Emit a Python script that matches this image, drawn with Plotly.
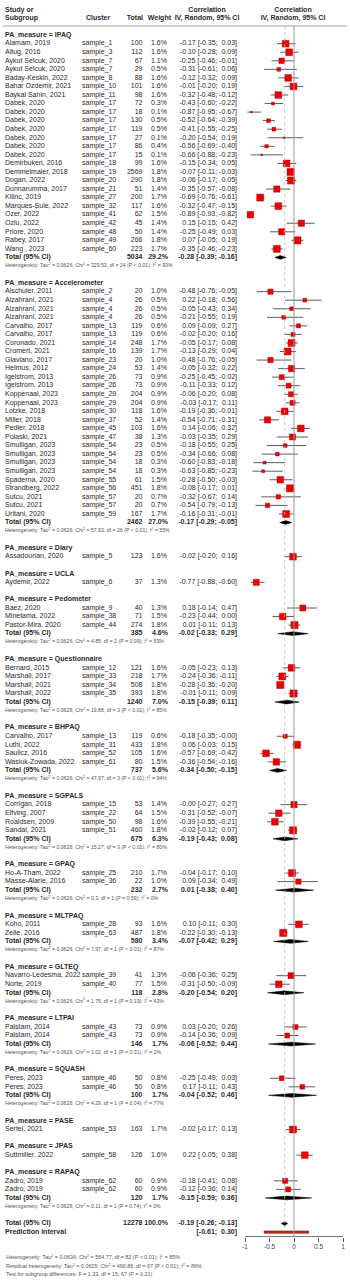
import math
import plotly.graph_objects as go

# ---------------- data ----------------
group_names = ["IPAQ", "Accelerometer", "Diary", "UCLA", "Pedometer", "Questionnaire", "BHPAQ",
               "SGPALS", "GPAQ", "MLTPAQ", "GLTEQ", "LTPAI", "SQUASH", "PASE", "JPAS", "RAPAQ"]
group_sizes = [25, 27, 1, 1, 3, 4, 4, 4, 2, 2, 2, 2, 2, 1, 1, 2]

study = [
    "Alamam, 2019", "Altug, 2016", "Aykut Selcuk, 2020", "Aykut Selcuk, 2020", "Baday-Keskin, 2022",
    "Bahar Ozdemir, 2021", "Baykal Sahin, 2021", "Dabek, 2020", "Dabek, 2020", "Dabek, 2020",
    "Dabek, 2020", "Dabek, 2020", "Dabek, 2020", "Dabek, 2020", "Demirbuken, 2016",
    "Demmelmaier, 2018", "Dogan, 2022", "Donnarumma, 2017", "Kilinc, 2019", "Marques-Sule, 2022",
    "Ozer, 2022", "Ozlu, 2022", "Priore, 2020", "Rabey, 2017", "Wang , 2023",
    "Alschuler, 2011", "Alzahrani, 2021", "Alzahrani, 2021", "Alzahrani, 2021", "Carvalho, 2017",
    "Carvalho, 2017", "Coronado, 2021", "Cromert, 2021", "Glaviano, 2017", "Helmus, 2012",
    "Igelstrom, 2013", "Igelstrom, 2013", "Koppenaal, 2023", "Koppenaal, 2023", "Lotzke, 2018",
    "Miller, 2018", "Pedler, 2018", "Polaski, 2021", "Smulligan, 2023", "Smulligan, 2023",
    "Smulligan, 2023", "Smulligan, 2023", "Spaderna, 2020", "Strandberg, 2022", "Sutcu, 2021",
    "Sutcu, 2021", "Uritani, 2020",
    "Assadourian, 2020",
    "Aydemir, 2022",
    "Baez, 2020", "Minetama, 2022", "Pastor-Mira, 2020",
    "Bernard, 2015", "Marshall, 2017", "Marshall, 2021", "Marshall, 2022",
    "Carvalho, 2017", "Luthi, 2022", "Saulicz, 2016", "Wasiuk-Zowada, 2022",
    "Corrigan, 2018", "Elfving, 2007", "Roaldsen, 2009", "Sandal, 2021",
    "Ho-A-Tham, 2022", "Masse-Alarie, 2016",
    "Koho, 2011", "Zelle, 2016",
    "Navarro-Ledesma, 2022", "Norte, 2019",
    "Palstam, 2014", "Palstam, 2014",
    "Peres, 2023", "Peres, 2023",
    "Sertel, 2021",
    "Suttmiller, 2022",
    "Zadro, 2019", "Zadro, 2019",
]
cluster = [
    "sample_1", "sample_3", "sample_7", "sample_7", "sample_8",
    "sample_10", "sample_11", "sample_17", "sample_17", "sample_17",
    "sample_17", "sample_17", "sample_17", "sample_17", "sample_18",
    "sample_19", "sample_20", "sample_21", "sample_27", "sample_32",
    "sample_41", "sample_42", "sample_48", "sample_49", "sample_60",
    "sample_2", "sample_4", "sample_4", "sample_4", "sample_13",
    "sample_13", "sample_14", "sample_16", "sample_23", "sample_24",
    "sample_26", "sample_26", "sample_29", "sample_29", "sample_30",
    "sample_37", "sample_45", "sample_47", "sample_54", "sample_54",
    "sample_54", "sample_54", "sample_55", "sample_56", "sample_57",
    "sample_57", "sample_59",
    "sample_5",
    "sample_6",
    "sample_9", "sample_38", "sample_44",
    "sample_12", "sample_33", "sample_34", "sample_35",
    "sample_13", "sample_31", "sample_52", "sample_61",
    "sample_15", "sample_22", "sample_50", "sample_51",
    "sample_25", "sample_36",
    "sample_28", "sample_63",
    "sample_39", "sample_40",
    "sample_43", "sample_43",
    "sample_46", "sample_46",
    "sample_53",
    "sample_58",
    "sample_62", "sample_62",
]
total_n = [
    100, 112, 67, 29, 88, 101, 98, 72, 18, 130, 119, 27, 86, 15, 99, 2569, 290, 51, 200, 117,
    62, 45, 50, 266, 223,
    20, 26, 26, 26, 119, 119, 248, 139, 20, 53, 73, 73, 204, 204, 118, 52, 103, 38, 23, 23,
    18, 18, 61, 451, 20, 20, 167,
    123,
    37,
    40, 71, 274,
    121, 218, 508, 393,
    119, 433, 105, 80,
    53, 64, 98, 460,
    210, 22,
    93, 487,
    41, 77,
    73, 73,
    50, 50,
    163,
    126,
    60, 60,
]
weight = [
    1.6, 1.6, 1.1, 0.5, 1.6, 1.6, 1.6, 0.3, 0.1, 0.5, 0.5, 0.1, 0.4, 0.1, 1.6, 1.8, 1.8, 1.4, 1.7, 1.6,
    1.5, 1.4, 1.4, 1.8, 1.7,
    1.0, 0.5, 0.5, 0.5, 0.6, 0.6, 1.7, 1.7, 1.0, 1.4, 0.9, 0.9, 0.9, 0.9, 1.6, 1.4, 1.6, 1.3, 0.5, 0.5,
    0.3, 0.3, 1.5, 1.8, 0.7, 0.7, 1.7,
    1.6,
    1.3,
    1.3, 1.5, 1.8,
    1.6, 1.7, 1.8, 1.8,
    0.6, 1.8, 1.6, 1.5,
    1.4, 1.5, 1.6, 1.8,
    1.7, 1.0,
    1.6, 1.8,
    1.3, 1.5,
    0.9, 0.9,
    0.8, 0.8,
    1.7,
    1.6,
    0.9, 0.9,
]
est = [
    -0.17, -0.10, -0.25, -0.31, -0.12, -0.01, -0.32, -0.43, -0.87, -0.52, -0.41, -0.20, -0.56, -0.66,
    -0.15, -0.07, -0.06, -0.35, -0.69, -0.32, -0.89, 0.15, -0.25, 0.07, -0.35,
    -0.48, 0.22, -0.05, -0.21, 0.09, -0.02, -0.05, -0.13, -0.48, -0.05, -0.25, -0.11, -0.06, -0.03,
    -0.19, -0.54, 0.14, -0.03, -0.18, -0.34, -0.60, -0.63, -0.28, -0.08, -0.32, -0.54, -0.16,
    -0.02,
    -0.77,
    0.18, -0.23, 0.01,
    -0.05, -0.24, -0.28, -0.01,
    -0.18, 0.06, -0.57, -0.36,
    -0.0, -0.31, -0.39, -0.02,
    -0.04, 0.09,
    0.10, -0.22,
    -0.06, -0.31,
    0.03, -0.14,
    -0.25, 0.17,
    -0.02,
    0.22,
    -0.18, -0.12,
]
ci_lo = [
    -0.35, -0.28, -0.46, -0.61, -0.32, -0.20, -0.48, -0.60, -0.95, -0.64, -0.55, -0.54, -0.69, -0.88,
    -0.34, -0.11, -0.17, -0.57, -0.76, -0.47, -0.93, -0.15, -0.49, -0.05, -0.46,
    -0.76, -0.18, -0.43, -0.55, -0.09, -0.20, -0.17, -0.29, -0.76, -0.32, -0.45, -0.33, -0.20, -0.17,
    -0.36, -0.71, -0.06, -0.35, -0.55, -0.66, -0.83, -0.85, -0.50, -0.17, -0.67, -0.79, -0.31,
    -0.20,
    -0.88,
    -0.14, -0.44, -0.11,
    -0.23, -0.36, -0.36, -0.11,
    -0.35, -0.03, -0.69, -0.54,
    -0.27, -0.52, -0.55, -0.12,
    -0.17, -0.34,
    -0.11, -0.30,
    -0.36, -0.50,
    -0.20, -0.36,
    -0.49, -0.11,
    -0.17,
    0.05,
    -0.41, -0.36,
]
ci_hi = [
    0.03, 0.09, -0.01, 0.06, 0.09, 0.19, -0.12, -0.22, -0.67, -0.39, -0.25, 0.19, -0.40, -0.23,
    0.05, -0.03, 0.05, -0.08, -0.61, -0.15, -0.82, 0.42, 0.03, 0.19, -0.23,
    -0.05, 0.56, 0.34, 0.19, 0.27, 0.16, 0.08, 0.04, -0.05, 0.22, -0.02, 0.12, 0.08, 0.11,
    -0.01, -0.31, 0.32, 0.29, 0.25, 0.08, -0.18, -0.23, -0.03, 0.01, 0.14, -0.13, -0.01,
    0.16,
    -0.60,
    0.47, 0.00, 0.13,
    0.13, -0.11, -0.20, 0.09,
    -0.0, 0.15, -0.42, -0.16,
    0.27, -0.07, -0.21, 0.07,
    0.10, 0.49,
    0.30, -0.13,
    0.25, -0.09,
    0.26, 0.09,
    0.03, 0.43,
    0.13,
    0.38,
    0.08, 0.14,
]

# subgroup summaries (None = single-study subgroup)
sub_n = [5034, 2462, None, None, 385, 1240, 737, 675, 232, 580, 118, 146, 100, None, None, 120]
sub_w = [29.2, 27.0, None, None, 4.6, 7.0, 5.6, 6.3, 2.7, 3.4, 2.8, 1.7, 1.7, None, None, 1.7]
sub_est = [-0.28, -0.17, None, None, -0.02, -0.15, -0.34, -0.19, 0.01, -0.07, -0.20, -0.06, -0.04, None, None, -0.15]
sub_lo = [-0.39, -0.29, None, None, -0.33, -0.39, -0.50, -0.43, -0.38, -0.42, -0.54, -0.52, -0.52, None, None, -0.59]
sub_hi = [-0.16, -0.05, None, None, 0.29, 0.11, -0.15, 0.08, 0.40, 0.29, 0.20, 0.44, 0.46, None, None, 0.36]
sub_tau2 = "0.0626"
sub_chi2 = ["329.53", "57.93", None, None, "4.85", "19.88", "47.97", "15.27", "0.3", "7.97", "1.75", "1.02", "4.29", None, None, "0.11"]
sub_df = [24, 26, None, None, 2, 3, 3, 3, 1, 1, 1, 1, 1, None, None, 1]
sub_p = ["< 0.01", "< 0.01", None, None, "= 0.09", "< 0.01", "< 0.01", "< 0.01", "= 0.59", "< 0.01", "= 0.19", "= 0.31", "= 0.04", None, None, "= 0.74"]
sub_i2 = [93, 55, None, None, 59, 85, 94, 80, 0, 87, 43, 2, 77, None, None, 0]

overall_n = 12278
overall_w = 100.0
overall_est, overall_lo, overall_hi = -0.19, -0.26, -0.13
pred_lo, pred_hi = -0.61, 0.30

footer_lines = [
    "Heterogeneity: Tau<sup>2</sup> = 0.0634; Chi<sup>2</sup> = 564.77, df = 82 (P &lt; 0.01); I<sup>2</sup> = 85%",
    "Residual heterogeneity: Tau<sup>2</sup> = 0.0605; Chi<sup>2</sup> = 490.86, df = 67 (P &lt; 0.01); I<sup>2</sup> = 86%",
    "Test for subgroup differences: F = 1.33, df = 15, 67 (P = 0.21)",
]
tick_vals = [-1, -0.5, 0, 0.5, 1]
tick_text = ["-1", "-0.5", "0", "0.5", "1"]

# ---------------- layout constants ----------------
W, H = 350, 1280
ROW0_PX, ROW_PX = 43.7, 8.55          # pixel centre of first study row, row pitch
AX_L_PX, AX_R_PX = 245.0, 343.0        # pixel positions of -1 and +1
AXIS_PX = 1236.5                       # pixel row of the x axis line
PX_PER_UNIT = (AX_R_PX - AX_L_PX) / (tick_vals[-1] - tick_vals[0])


def row_of(px):
    return (px - ROW0_PX) / ROW_PX


def xd(px):
    return tick_vals[0] + (px - AX_L_PX) / PX_PER_UNIT


FONT = "Liberation Sans, Arial, sans-serif"
TXT = "#2a2a2a"
X_STUDY, X_CLUSTER, X_TOTAL, X_WEIGHT, X_CI = 5, 82, 142.5, 167, 237


def num(v):
    s = f"{v:.2f}"
    return s if s.startswith("-") else "\u00a0" + s


def ci_text(e, lo, hi):
    return f"{e:.2f} [{num(lo)}; {num(hi)}]"


# ---------------- row assignment ----------------
study_rows, hdr_rows, tot_rows, het_rows = [], [], [], []
r = -1
for g, name in enumerate(group_names):
    hdr_rows.append(r)
    r += 1
    for _ in range(group_sizes[g]):
        study_rows.append(r)
        r += 1
    if sub_n[g] is not None:
        tot_rows.append((g, r))
        r += 1
        het_rows.append((g, r))
        r += 1
    r += 1
overall_row = r
pred_row = r + 1

traces = []


def text_trace(xpx, ys, texts, pos, size=7, color=TXT):
    return go.Scatter(x=[xd(xpx)] * len(ys), y=ys, text=texts, mode="text", textposition=pos,
                      textfont=dict(family=FONT, size=size, color=color),
                      hoverinfo="skip", cliponaxis=False, showlegend=False)


# ---------------- forest graphics ----------------
lx, ly = [], []
for l, h, rr in zip(ci_lo, ci_hi, study_rows):
    lx += [l, h, None]
    ly += [rr, rr, None]
traces.append(go.Scatter(x=lx, y=ly, mode="lines", line=dict(color="#333333", width=0.8),
                         hoverinfo="skip", showlegend=False))
traces.append(go.Scatter(x=est, y=study_rows, mode="markers",
                         marker=dict(symbol="square", size=[7.2 * math.sqrt(w / 1.8) for w in weight],
                                     color="#ee0000", opacity=1, line=dict(color="#9a0000", width=0.4)),
                         hoverinfo="skip", showlegend=False))

dh = 0.22
dx, dy = [], []
for g, rr in tot_rows:
    dx += [sub_lo[g], sub_est[g], sub_hi[g], sub_est[g], sub_lo[g], None]
    dy += [rr, rr - dh, rr, rr + dh, rr, None]
dx += [overall_lo, overall_est, overall_hi, overall_est, overall_lo, None]
dy += [overall_row, overall_row - dh, overall_row, overall_row + dh, overall_row, None]
traces.append(go.Scatter(x=dx, y=dy, mode="lines", fill="toself", fillcolor="black",
                         line=dict(color="black", width=0.5), hoverinfo="skip", showlegend=False))

ph = 0.14
traces.append(go.Scatter(x=[pred_lo, pred_hi, pred_hi, pred_lo, pred_lo],
                         y=[pred_row - ph, pred_row - ph, pred_row + ph, pred_row + ph, pred_row - ph],
                         mode="lines", fill="toself", fillcolor="#c0281e",
                         line=dict(color="#6a0f0a", width=0.5), hoverinfo="skip", showlegend=False))

# ---------------- text columns ----------------
hdr_y1, hdr_y2 = row_of(10), row_of(18.5)
traces.append(text_trace(X_STUDY, [hdr_y1, hdr_y2], ["<b>Study or</b>", "<b>Subgroup</b>"], "middle right"))
traces.append(text_trace(86, [hdr_y2], ["<b>Cluster</b>"], "middle right"))
traces.append(text_trace(143, [hdr_y2], ["<b>Total</b>"], "middle left"))
traces.append(text_trace(171, [hdr_y2], ["<b>Weight</b>"], "middle left"))
traces.append(text_trace(207, [hdr_y1, hdr_y2], ["<b>Correlation</b>", "<b>IV, Random, 95% CI</b>"], "middle center"))
traces.append(text_trace(293, [hdr_y1, hdr_y2], ["<b>Correlation</b>", "<b>IV, Random, 95% CI</b>"], "middle center"))

traces.append(text_trace(X_STUDY, study_rows, study, "middle right"))
traces.append(text_trace(X_CLUSTER, study_rows, cluster, "middle right"))
traces.append(text_trace(X_TOTAL, study_rows, [str(n) for n in total_n], "middle left"))
traces.append(text_trace(X_WEIGHT, study_rows, [f"{w:.1f}%" for w in weight], "middle left"))
traces.append(text_trace(X_CI, study_rows, [ci_text(e, l, h) for e, l, h in zip(est, ci_lo, ci_hi)], "middle left"))

bold_y = hdr_rows + [rr for _, rr in tot_rows] + [overall_row, pred_row]
bold_t = ([f"<b>PA_measure = {n}</b>" for n in group_names] + ["<b>Total (95% CI)</b>"] * len(tot_rows)
          + ["<b>Total (95% CI)</b>", "<b>Prediction interval</b>"])
traces.append(text_trace(X_STUDY, bold_y, bold_t, "middle right"))
ty = [rr for _, rr in tot_rows] + [overall_row]
traces.append(text_trace(X_TOTAL, ty, [f"<b>{sub_n[g]}</b>" for g, _ in tot_rows] + [f"<b>{overall_n}</b>"], "middle left"))
traces.append(text_trace(X_WEIGHT + 1, ty, [f"<b>{sub_w[g]:.1f}%</b>" for g, _ in tot_rows] + [f"<b>{overall_w:.1f}%</b>"], "middle left"))
traces.append(text_trace(X_CI, ty + [pred_row],
                         [f"<b>{ci_text(sub_est[g], sub_lo[g], sub_hi[g])}</b>" for g, _ in tot_rows]
                         + [f"<b>{ci_text(overall_est, overall_lo, overall_hi)}</b>",
                            f"<b>[{num(pred_lo)}; {num(pred_hi)}]</b>"], "middle left"))

het_t = [f"Heterogeneity: Tau<sup>2</sup> = {sub_tau2}; Chi<sup>2</sup> = {sub_chi2[g]}, df = {sub_df[g]} "
         f"(P {sub_p[g].replace('<', '&lt;')}); I<sup>2</sup> = {sub_i2[g]}%" for g, _ in het_rows]
traces.append(text_trace(X_STUDY, [rr for _, rr in het_rows], het_t, "middle right", size=5.2, color="#555555"))

fig = go.Figure(traces)

y_dom0 = (H - AXIS_PX) / H
shapes = [
    dict(type="line", xref="paper", yref="y", x0=3 / W, x1=347 / W, y0=row_of(26), y1=row_of(26),
         line=dict(color="#888888", width=0.8)),
    dict(type="line", xref="x", yref="y", x0=0, x1=0, y0=row_of(26), y1=row_of(AXIS_PX),
         line=dict(color="#999999", width=1)),
    dict(type="line", xref="x", yref="y", x0=overall_est, x1=overall_est, y0=row_of(26), y1=overall_row + 0.5,
         line=dict(color="#bbbbbb", width=0.8, dash="dot")),
    # axis baseline between the outer ticks
    dict(type="line", xref="x", yref="paper", x0=tick_vals[0], x1=tick_vals[-1], y0=y_dom0, y1=y_dom0,
         line=dict(color="#555555", width=0.8)),
]

annotations = [
    dict(xref="paper", yref="paper", x=X_STUDY / W, y=(H - py) / H, xanchor="left", yanchor="middle",
         text=t, showarrow=False, borderpad=0, font=dict(family=FONT, size=5.4, color="#555555"))
    for t, py in zip(footer_lines, [1257, 1265.5, 1274])
]

fig.update_layout(
    width=W, height=H, margin=dict(l=0, r=0, t=0, b=0),
    paper_bgcolor="white", plot_bgcolor="white", showlegend=False,
    shapes=shapes, annotations=annotations,
    xaxis=dict(domain=[0, 1], range=[xd(0), xd(W)], showline=False, ticks="outside", ticklen=4,
               tickcolor="#555555", tickwidth=0.8, tickvals=tick_vals, ticktext=tick_text,
               tickfont=dict(family=FONT, size=6.5, color="#444444"), showgrid=False, zeroline=False,
               fixedrange=True),
    yaxis=dict(domain=[y_dom0, 1], range=[row_of(AXIS_PX), row_of(0)], visible=False, fixedrange=True),
)

fig.write_html("out.html", config={"displayModeBar": False},
               post_script="document.body.style.margin='0px';")
